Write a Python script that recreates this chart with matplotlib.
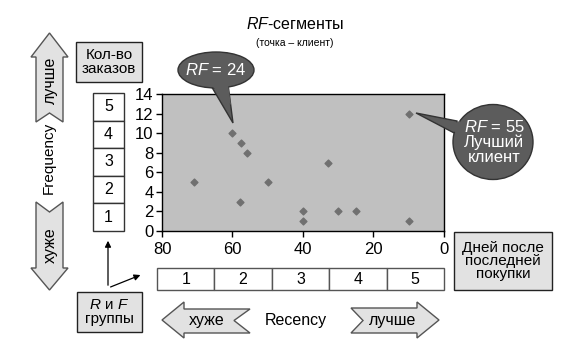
import matplotlib
matplotlib.use('Agg')
import matplotlib.pyplot as plt
from matplotlib.patches import Polygon, Rectangle, Ellipse

plt.rcParams['font.family'] = ['Liberation Sans', 'DejaVu Sans']
plt.rcParams['mathtext.fontset'] = 'custom'
plt.rcParams['mathtext.rm'] = 'Liberation Sans'
plt.rcParams['mathtext.it'] = 'Liberation Sans:italic'

# data: days since last purchase (recency) and number of orders (frequency)
recency = [71, 60, 57.5, 56, 58, 50, 33, 40, 40, 30, 25, 10, 10]
frequency = [5, 10, 9, 8, 3, 5, 7, 2, 1, 2, 2, 12, 1]
x_ticks = [80, 60, 40, 20, 0]
y_ticks = [0, 2, 4, 6, 8, 10, 12, 14]
groups = ['1', '2', '3', '4', '5']

W, H = 586, 352
fig = plt.figure(figsize=(W / 100, H / 100), dpi=100)

# scatter
ax = fig.add_axes([162 / W, 1 - 231 / H, 282 / W, 137 / H])
ax.set_facecolor('#c0c0c0')
ax.scatter(recency, frequency, marker='D', s=12, color='#707070', zorder=3)
ax.set_xlim(80, 0)
ax.set_ylim(0, 14)
ax.set_xticks(x_ticks)
ax.set_yticks(y_ticks)
ax.tick_params(labelsize=12, length=4, width=1, pad=2)
ax.tick_params(axis='x', pad=4)
for s in ax.spines.values():
    s.set_linewidth(1)

# overlay in pixel coordinates for the diagram parts
ov = fig.add_axes([0, 0, 1, 1], zorder=5)
ov.set_xlim(0, W)
ov.set_ylim(H, 0)
ov.set_axis_off()
ov.patch.set_alpha(0)

light = '#e2e2e2'
arrow_kw = dict(closed=True, facecolor=light, edgecolor='#555555', lw=1)

# title
ov.text(295, 24, r'$\it{RF}$-сегменты', ha='center', va='center', fontsize=11.5)
ov.text(295, 43, '(точка – клиент)', ha='center', va='center', fontsize=7.5)

# vertical arrows
up = [(49.5, 33), (68, 57), (63, 57), (63, 122), (49.5, 113), (36, 122), (36, 57), (31, 57)]
ov.add_patch(Polygon(up, **arrow_kw))
ov.text(50, 80, 'лучше', rotation=90, ha='center', va='center', fontsize=11.5)
ov.text(49, 158, 'Frequency', rotation=90, ha='center', va='center', fontsize=11)
down = [(36, 202), (49.5, 212), (63, 202), (63, 268), (68, 268), (49.5, 290), (31, 268), (36, 268)]
ov.add_patch(Polygon(down, **arrow_kw))
ov.text(50, 245, 'хуже', rotation=90, ha='center', va='center', fontsize=11.5)

# horizontal arrows
left = [(162, 320), (184, 302), (184, 309), (250, 309), (234, 320.5), (250, 333), (184, 333), (184, 338)]
ov.add_patch(Polygon(left, **arrow_kw))
ov.text(207, 321, 'хуже', ha='center', va='center', fontsize=11.5)
ov.text(296, 320, 'Recency', ha='center', va='center', fontsize=11.5)
right = [(351, 308), (417, 308), (417, 302), (439, 320), (417, 338), (417, 333), (351, 333), (363, 320.5)]
ov.add_patch(Polygon(right, **arrow_kw))
ov.text(393, 321, 'лучше', ha='center', va='center', fontsize=11.5)

# label boxes
ov.add_patch(Rectangle((76, 42), 66, 40, facecolor=light, edgecolor='#222222', lw=1))
ov.text(109, 62, 'Кол-во\nзаказов', ha='center', va='center', fontsize=11, linespacing=1.0)
ov.add_patch(Rectangle((77, 292), 65, 40, facecolor=light, edgecolor='#222222', lw=1))
ov.text(109.5, 312, '$\\it{R}$ и $\\it{F}$\nгруппы', ha='center', va='center', fontsize=11, linespacing=1.05)
ov.add_patch(Rectangle((454, 232), 98, 58, facecolor=light, edgecolor='#222222', lw=1))
ov.text(503, 261, 'Дней после\nпоследней\nпокупки', ha='center', va='center', fontsize=11, linespacing=0.95)

# group cells (frequency: vertical, recency: horizontal)
ch = (231 - 93) / len(groups)
for i, g in enumerate(groups[::-1]):
    ov.add_patch(Rectangle((93, 93 + i * ch), 31, ch, facecolor='white', edgecolor='#333333', lw=1))
    ov.text(108.5, 93 + (i + 0.5) * ch, g, ha='center', va='center', fontsize=11.5)
cw = (444 - 157) / len(groups)
for i, g in enumerate(groups):
    ov.add_patch(Rectangle((157 + i * cw, 268), cw, 22, facecolor='white', edgecolor='#555555', lw=1))
    ov.text(157 + (i + 0.5) * cw, 279, g, ha='center', va='center', fontsize=11.5)

# small connector arrows
ov.annotate('', xy=(108, 238), xytext=(108, 288),
            arrowprops=dict(arrowstyle='-|>', color='black', lw=0.9, mutation_scale=9))
ov.annotate('', xy=(143, 274), xytext=(108, 288),
            arrowprops=dict(arrowstyle='-|>', color='black', lw=0.9, mutation_scale=9))

# callouts
dark = '#5c5c5c'
ov.add_patch(Polygon([(210, 84), (228, 84), (233, 123)], closed=True, facecolor=dark, edgecolor='#333333', lw=1))
ov.add_patch(Ellipse((216, 70), 76, 36, facecolor=dark, edgecolor='#333333', lw=1))
ov.add_patch(Polygon([(210, 84), (228, 84), (231, 105)], closed=True, facecolor=dark, edgecolor='none'))
ov.text(216, 70, '$\\it{RF}$ = 24', ha='center', va='center', fontsize=12, color='white')

ov.add_patch(Polygon([(457, 121), (458, 135), (416, 113)], closed=True, facecolor=dark, edgecolor='#333333', lw=1))
ov.add_patch(Ellipse((493, 142), 80, 75, facecolor=dark, edgecolor='#333333', lw=1))
ov.add_patch(Polygon([(460, 121), (461, 135), (445, 127)], closed=True, facecolor=dark, edgecolor='none'))
ov.text(494, 142, '$\\it{RF}$ = 55\nЛучший\nклиент', ha='center', va='center', fontsize=12,
        color='white', linespacing=1.0)

fig.savefig('out.png', dpi=100)
